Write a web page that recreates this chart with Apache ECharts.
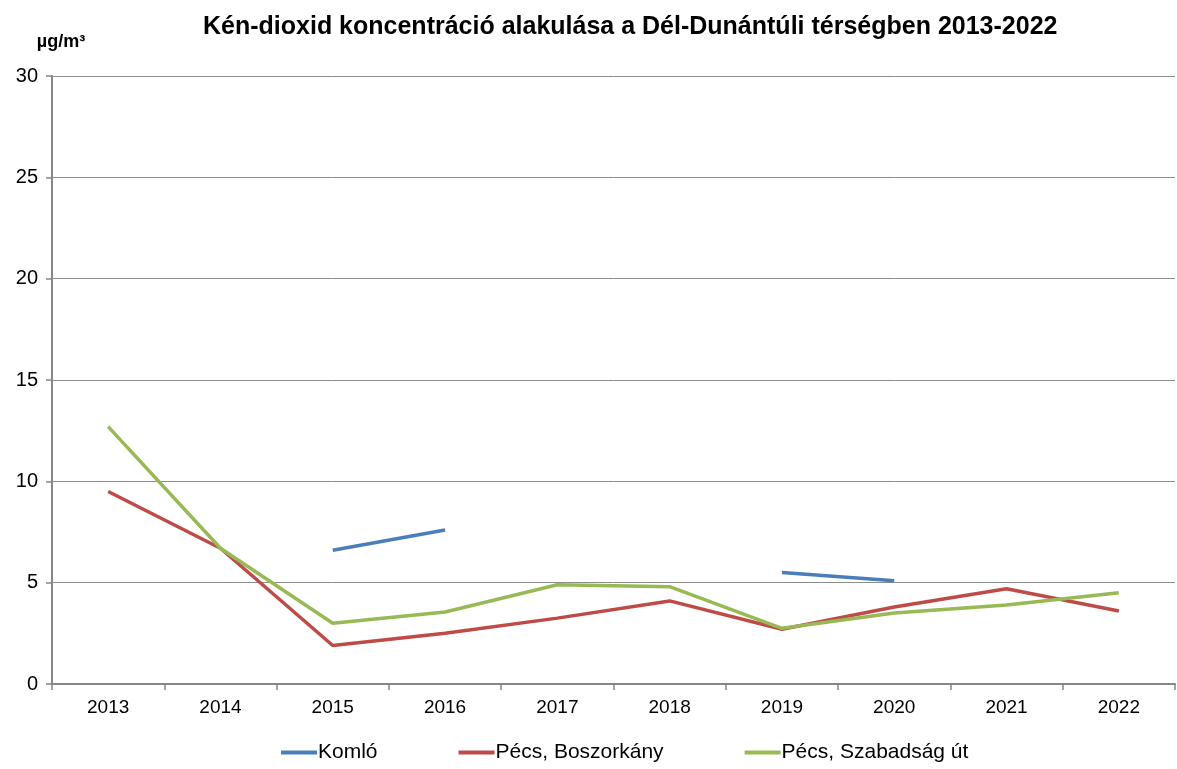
<!DOCTYPE html>
<html>
<head>
<meta charset="utf-8">
<script src="https://cdn.jsdelivr.net/npm/echarts@6/dist/echarts.min.js"></script>
<style>
  html, body { margin: 0; padding: 0; background: #fff; }
  #chart { width: 1177px; height: 769px; }
</style>
</head>
<body>
<div id="chart"></div>
<script>
var years = ['2013', '2014', '2015', '2016', '2017', '2018', '2019', '2020', '2021', '2022'];
var komlo = [null, null, 6.6, 7.6, null, null, 5.5, 5.1, null, null];
var boszorkany = [9.5, 6.7, 1.9, 2.5, 3.25, 4.1, 2.7, 3.8, 4.7, 3.6];
var szabadsag = [12.7, 6.7, 3.0, 3.55, 4.9, 4.8, 2.75, 3.5, 3.9, 4.5];

var chart = echarts.init(document.getElementById('chart'));
var font = 'Liberation Sans, Arial, sans-serif';

function line(name, data, color) {
    return {
        name: name,
        type: 'line',
        data: data,
        symbol: 'none',
        connectNulls: false,
        lineStyle: { color: color, width: 3.5 },
        itemStyle: { color: color }
    };
}

chart.setOption({
    animation: false,
    title: {
        text: 'Kén-dioxid koncentráció alakulása a Dél-Dunántúli térségben 2013-2022',
        left: 198,
        top: 10,
        textStyle: { fontFamily: font, fontSize: 25, fontWeight: 'bold', color: '#000' }
    },
    legend: {
        bottom: 1,
        left: 276,
        itemGap: 81,
        itemWidth: 36,
        itemHeight: 4,
        icon: 'rect',
        textStyle: { fontFamily: font, fontSize: 21, color: '#000', padding: [0, 0, 0, -4] },
        data: ['Komló', 'Pécs, Boszorkány', 'Pécs, Szabadság út']
    },
    grid: { left: 52, right: 2, top: 76, bottom: 85, containLabel: false },
    xAxis: {
        type: 'category',
        data: years,
        boundaryGap: true,
        axisLine: { lineStyle: { color: '#868686', width: 2 } },
        axisTick: { show: true, length: 6, lineStyle: { color: '#868686', width: 1.5 } },
        axisLabel: { fontFamily: font, fontSize: 19, color: '#000', margin: 14 }
    },
    yAxis: {
        type: 'value',
        min: 0,
        max: 30,
        interval: 5,
        name: 'µg/m³',
        nameLocation: 'end',
        nameGap: 25,
        nameTextStyle: { fontFamily: font, fontSize: 18, fontWeight: 'bold', color: '#000', align: 'center', padding: [0, 0, 0, 18] },
        axisLine: { show: true, lineStyle: { color: '#868686', width: 2 } },
        axisTick: { show: true, length: 6, lineStyle: { color: '#868686', width: 1.5 } },
        axisLabel: { fontFamily: font, fontSize: 20, color: '#000', margin: 14 },
        splitLine: { lineStyle: { color: '#8c8c8c', width: 1 } }
    },
    series: [
        line('Komló', komlo, '#4a7ebb'),
        line('Pécs, Boszorkány', boszorkany, '#be4b48'),
        line('Pécs, Szabadság út', szabadsag, '#98b954')
    ]
});

window.onresize = chart.resize;
</script>
</body>
</html>
